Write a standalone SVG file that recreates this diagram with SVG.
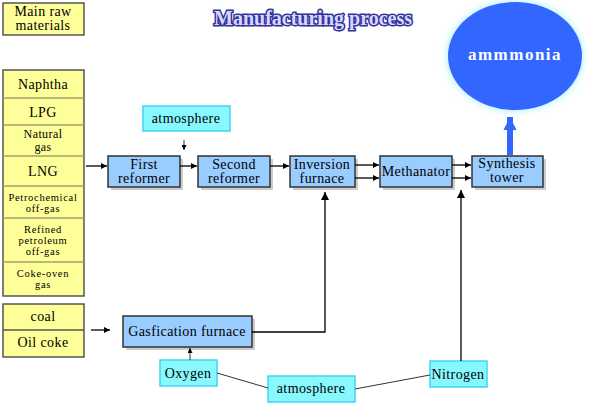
<svg xmlns="http://www.w3.org/2000/svg" width="590" height="403" viewBox="0 0 590 403" font-family="'Liberation Serif', serif">
<defs>
<style>
text{font-family:'Liberation Serif',serif;font-size:14px;letter-spacing:0.4px;fill:#000;text-anchor:middle}
.s{font-size:10.5px;letter-spacing:0.7px}
.y{fill:#ffff99;stroke:#555;stroke-width:1.5}
.sep{stroke:#a0a070;stroke-width:1.5}
.b{fill:#99ccff;stroke:#333;stroke-width:1.5}
.sh{fill:#999;opacity:0.5}
.c{fill:#88f8ff;stroke:#44d4f4;stroke-width:1.5}
.ln{stroke:#000;stroke-width:1.3;fill:none}
.thin{stroke:#333;stroke-width:1;fill:none}
</style>
<marker id="ah" viewBox="0 0 10 10" refX="10" refY="5" markerWidth="5" markerHeight="5" orient="auto"><path d="M0,0 L10,5 L0,10 z" fill="#000"/></marker>
<marker id="ahL" viewBox="0 0 10 10" refX="10" refY="5" markerWidth="8" markerHeight="8" markerUnits="userSpaceOnUse" orient="auto"><path d="M0,0 L10,5 L0,10 z" fill="#000"/></marker>
<marker id="ahB" viewBox="0 0 10 10" refX="10" refY="5" markerWidth="2.2" markerHeight="2.2" orient="auto"><path d="M0,0 L10,5 L0,10 z" fill="#3366ff"/></marker>
<filter id="glow" x="-20%" y="-20%" width="140%" height="140%"><feGaussianBlur stdDeviation="3"/></filter>
</defs>
<rect width="590" height="403" fill="#fff"/>

<g id="title">
<text x="313" y="25" style="font-size:20px;letter-spacing:0;font-weight:bold;fill:#d8d8ff;stroke:#333399;stroke-width:3;paint-order:stroke">Manufacturing process</text>
</g>

<g id="main-raw">
<rect class="y" x="3" y="3" width="81" height="32"/>
<text x="43" y="16">Main raw</text><text x="43" y="30">materials</text>
</g>

<g id="raw-column">
<rect class="y" x="3" y="70" width="81" height="226"/>
<line class="sep" x1="3" y1="98" x2="84" y2="98"/>
<line class="sep" x1="3" y1="125" x2="84" y2="125"/>
<line class="sep" x1="3" y1="156" x2="84" y2="156"/>
<line class="sep" x1="3" y1="186" x2="84" y2="186"/>
<line class="sep" x1="3" y1="218" x2="84" y2="218"/>
<line class="sep" x1="3" y1="262" x2="84" y2="262"/>
<text x="43" y="89">Naphtha</text>
<text x="43" y="117">LPG</text>
<text class="s" x="43" y="138" style="font-size:12px;letter-spacing:0.4px">Natural</text><text class="s" x="43" y="151" style="font-size:12px;letter-spacing:0.4px">gas</text>
<text x="43" y="176">LNG</text>
<text class="s" x="43" y="201">Petrochemical</text><text class="s" x="43" y="212">off-gas</text>
<text class="s" x="43" y="233">Refined</text><text class="s" x="43" y="244">petroleum</text><text class="s" x="43" y="255">off-gas</text>
<text class="s" x="43" y="277">Coke-oven</text><text class="s" x="43" y="288">gas</text>
</g>

<g id="coal-box">
<rect class="y" x="3" y="304" width="81" height="53"/>
<line class="sep" x1="3" y1="330" x2="84" y2="330" style="stroke:#555"/>
<text x="43" y="321">coal</text>
<text x="43" y="347">Oil coke</text>
</g>

<g id="atmosphere-top">
<rect class="c" x="143" y="106" width="87" height="25"/>
<text x="186" y="123">atmosphere</text>
</g>

<g id="first-reformer">
<rect class="sh" x="111" y="159" width="72" height="31"/>
<rect class="b" x="108" y="156" width="72" height="31"/>
<text x="144" y="169">First</text><text x="144" y="183">reformer</text>
</g>
<g id="second-reformer">
<rect class="sh" x="201" y="159" width="72" height="31"/>
<rect class="b" x="198" y="156" width="72" height="31"/>
<text x="234" y="169">Second</text><text x="234" y="183">reformer</text>
</g>
<g id="inversion-furnace">
<rect class="sh" x="293" y="159" width="65" height="31"/>
<rect class="b" x="290" y="156" width="65" height="31"/>
<text x="322" y="169">Inversion</text><text x="322" y="183">furnace</text>
</g>
<g id="methanator">
<rect class="sh" x="383" y="159" width="72" height="31"/>
<rect class="b" x="380" y="156" width="72" height="31"/>
<text x="416" y="176">Methanator</text>
</g>
<g id="synthesis-tower">
<rect class="sh" x="475" y="159" width="71" height="31"/>
<rect class="b" x="472" y="156" width="71" height="31"/>
<text x="507" y="168">Synthesis</text><text x="507" y="182">tower</text>
</g>

<g id="ammonia">
<ellipse cx="515" cy="56" rx="69" ry="56" fill="#bff4ff" filter="url(#glow)"/>
<ellipse cx="515" cy="56" rx="67" ry="54" fill="#3366ff"/>
<text x="515" y="60" style="font-size:17px;letter-spacing:1.5px;font-weight:bold;fill:#fff">ammmonia</text>
</g>

<g id="gasfication-furnace">
<rect class="sh" x="126" y="319" width="129" height="31"/>
<rect class="b" x="123" y="316" width="129" height="31"/>
<text x="187" y="336">Gasfication furnace</text>
</g>

<g id="oxygen">
<rect class="c" x="160" y="360" width="57" height="26"/>
<text x="188" y="378">Oxygen</text>
</g>
<g id="atmosphere-bottom">
<rect class="c" x="268" y="376" width="87" height="26"/>
<text x="311" y="393">atmosphere</text>
</g>
<g id="nitrogen">
<rect class="c" x="430" y="361" width="57" height="26"/>
<text x="458" y="379">Nitrogen</text>
</g>

<g id="connectors">
<line class="ln" x1="86" y1="166" x2="107" y2="166" marker-end="url(#ah)"/>
<line class="ln" x1="180" y1="166" x2="197" y2="166" marker-end="url(#ah)"/>
<line class="ln" x1="270" y1="166" x2="289" y2="166" marker-end="url(#ah)"/>
<line class="ln" x1="355" y1="165" x2="379" y2="165" marker-end="url(#ah)"/>
<line class="ln" x1="355" y1="178" x2="379" y2="178" marker-end="url(#ah)"/>
<line class="ln" x1="452" y1="165" x2="471" y2="165" marker-end="url(#ah)"/>
<line class="ln" x1="452" y1="178" x2="471" y2="178" marker-end="url(#ah)"/>
<line class="thin" x1="184" y1="140" x2="184" y2="150" marker-end="url(#ah)"/>
<line x1="510" y1="155" x2="510" y2="117" stroke="#3366ff" stroke-width="6" marker-end="url(#ahB)"/>
<line class="ln" x1="91" y1="330" x2="110" y2="330" marker-end="url(#ah)"/>
<polyline class="ln" points="252,332 325,332 325,192" marker-end="url(#ahL)"/>
<line class="ln" x1="461" y1="361" x2="461" y2="190" marker-end="url(#ahL)"/>
<line class="thin" x1="190" y1="360" x2="190" y2="348" marker-end="url(#ah)"/>
<line class="thin" x1="217" y1="373" x2="268" y2="388"/>
<line class="thin" x1="355" y1="389" x2="430" y2="375"/>
</g>
</svg>
